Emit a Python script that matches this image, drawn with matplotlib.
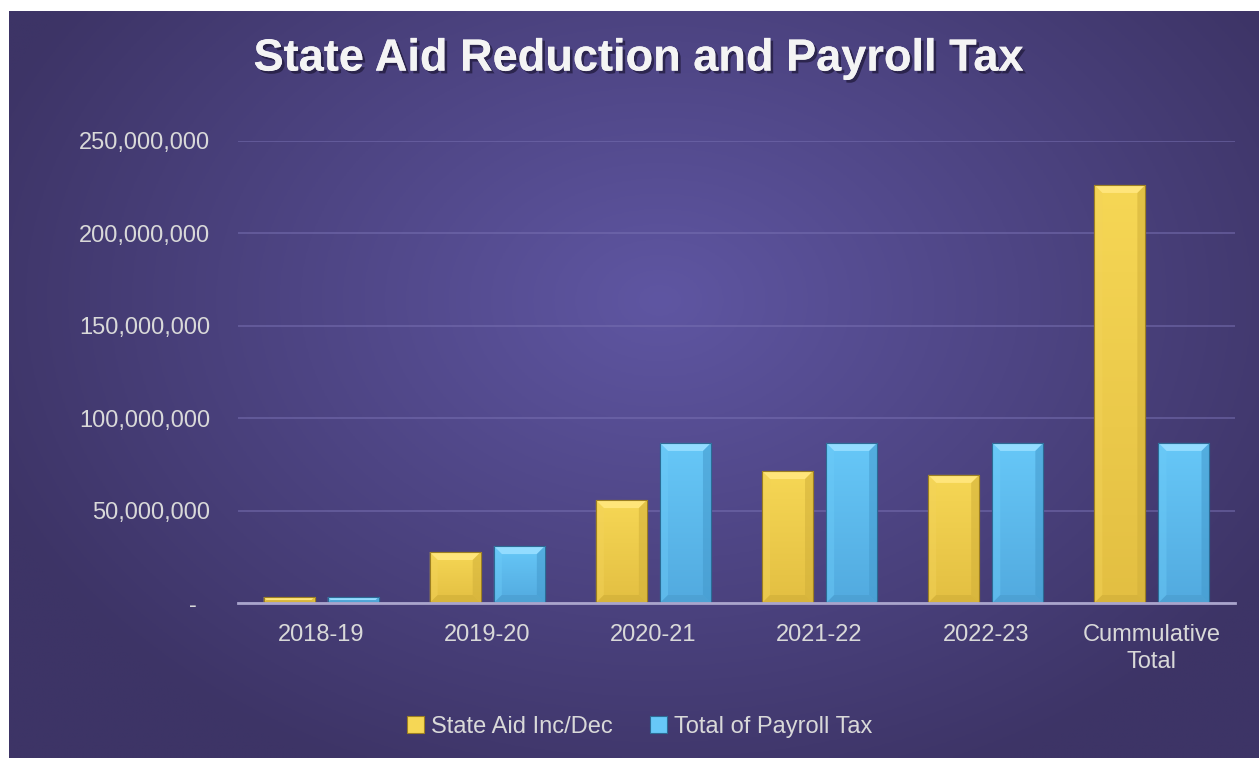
import numpy as np
import matplotlib
matplotlib.use("Agg")
import matplotlib.pyplot as plt
from matplotlib.patches import Polygon, Patch
from matplotlib.ticker import FuncFormatter
import matplotlib.patheffects as pe
from matplotlib.colors import to_rgb

plt.rcParams['font.family'] = ['Liberation Sans', 'DejaVu Sans']

# data
categories = ['2018-19', '2019-20', '2020-21', '2021-22', '2022-23', 'Cummulative\nTotal']
state_aid = [3200000, 27600000, 55700000, 71400000, 69300000, 226200000]
payroll_tax = [3200000, 30800000, 86600000, 86600000, 86600000, 86600000]
series_names = ['State Aid Inc/Dec', 'Total of Payroll Tax']

W, H = 1259, 758
fig = plt.figure(figsize=(W / 100, H / 100), dpi=100)
fig.patch.set_facecolor('white')

# radial gradient background
bg = fig.add_axes([9 / W, 0, 1 - 9 / W, 1 - 11 / H])
bg.set_axis_off()
gx, gy = np.meshgrid(np.linspace(9, W, 400), np.linspace(11, H, 250))
r = np.sqrt(((gx - 660) / 720) ** 2 + ((gy - 300) / 520) ** 2)
r = np.clip(r, 0, 1)[..., None]
c_in = np.array(to_rgb('#5f56a2'))
c_out = np.array(to_rgb('#3d3466'))
bg.imshow(c_in * (1 - r) + c_out * r, aspect='auto', extent=[0, 1, 0, 1], origin='upper')
bg.set_zorder(-5)

ax = fig.add_axes([238 / W, (H - 603) / H, 997 / W, (603 - 141) / H])
ax.set_facecolor('none')
ax.set_xlim(-0.5, len(categories) - 0.5)
ax.set_ylim(0, 250000000)

x = np.arange(len(categories))
bw = 0.307
off = 0.193

# colour sets: body top, body bottom, top bevel, left bevel, right bevel, bottom bevel, edge
yellow = ['#f6d755', '#e3bf42', '#ffe57a', '#f3d35a', '#d1b03a', '#cfae38', '#9c7f22']
blue = ['#67c8f8', '#52aadf', '#93dcff', '#6ccbf8', '#4499cc', '#4a9ccd', '#2c6b95']

px_x = (len(categories)) / 997.0
px_y = 250000000 / (603 - 141)


def fancy_bars(xs, vals, cols):
    bars = ax.bar(xs, vals, width=bw, color=cols[0], edgecolor=cols[6], linewidth=0.8, zorder=3)
    for b in bars:
        x0, y0 = b.get_x(), b.get_y()
        w, h = b.get_width(), b.get_height()
        grad = np.linspace(0, 1, 100)[:, None, None]
        img = np.array(to_rgb(cols[0])) * (1 - grad) + np.array(to_rgb(cols[1])) * grad
        im = ax.imshow(img, extent=[x0, x0 + w, y0, y0 + h], aspect='auto', origin='upper', zorder=3.1)
        im.set_clip_path(b)
        bv = min(8, (h / px_y) / 2.0, (w / px_x) / 2.0)
        bx, by = bv * px_x, bv * px_y
        x1, y1 = x0 + w, y0 + h
        ax.add_patch(Polygon([(x0, y1), (x1, y1), (x1 - bx, y1 - by), (x0 + bx, y1 - by)],
                             closed=True, color=cols[2], lw=0, zorder=3.2))
        ax.add_patch(Polygon([(x0, y0), (x0, y1), (x0 + bx, y1 - by), (x0 + bx, y0 + by)],
                             closed=True, color=cols[3], lw=0, alpha=0.45, zorder=3.2))
        ax.add_patch(Polygon([(x1, y0), (x1, y1), (x1 - bx, y1 - by), (x1 - bx, y0 + by)],
                             closed=True, color=cols[4], lw=0, alpha=0.55, zorder=3.2))
        ax.add_patch(Polygon([(x0, y0), (x1, y0), (x1 - bx, y0 + by), (x0 + bx, y0 + by)],
                             closed=True, color=cols[5], lw=0, alpha=0.6, zorder=3.2))
        ax.add_patch(Polygon([(x0, y0), (x1, y0), (x1, y1), (x0, y1)], closed=True,
                             fill=False, edgecolor=cols[6], lw=0.8, zorder=3.3))
    return bars


fancy_bars(x - off, state_aid, yellow)
fancy_bars(x + off, payroll_tax, blue)

# grid / axes styling
ax.set_yticks(np.arange(0, 250000001, 50000000))
ax.yaxis.set_major_formatter(FuncFormatter(lambda v, p: '-  ' if v == 0 else '{:,.0f}'.format(v)))
ax.grid(axis='y', color='#7a72b4', linewidth=1.3, alpha=0.55, zorder=0)
ax.set_axisbelow(True)
for s in ['top', 'right', 'left']:
    ax.spines[s].set_visible(False)
ax.spines['bottom'].set_color('#aaa5cc')
ax.spines['bottom'].set_linewidth(2)
ax.spines['bottom'].set_zorder(4)
ax.tick_params(axis='both', length=0, labelsize=17, labelcolor='#d9d9d9')
ax.tick_params(axis='y', pad=20)
ax.tick_params(axis='x', pad=15)
ax.set_xticks(x)
ax.set_xticklabels(categories, linespacing=1.3)

fig.text(0.507, 0.922, 'State Aid Reduction and Payroll Tax', ha='center', va='center',
         fontsize=32.5, fontweight='bold', color='#f4f4f4',
         path_effects=[pe.withSimplePatchShadow(offset=(2, -2), shadow_rgbFace='#1e1838', alpha=0.7),
                       pe.Normal()])

handles = [Patch(facecolor=yellow[0], edgecolor=yellow[6], lw=0.8),
           Patch(facecolor=blue[0], edgecolor=blue[6], lw=0.8)]
fig.legend(handles, series_names, loc='center', bbox_to_anchor=(0.508, 1 - 727 / H), ncol=2,
           frameon=False, fontsize=17, labelcolor='#d9d9d9', handlelength=0.7, handleheight=0.7,
           handletextpad=0.3, columnspacing=1.6)

fig.savefig('out.png', dpi=100)
